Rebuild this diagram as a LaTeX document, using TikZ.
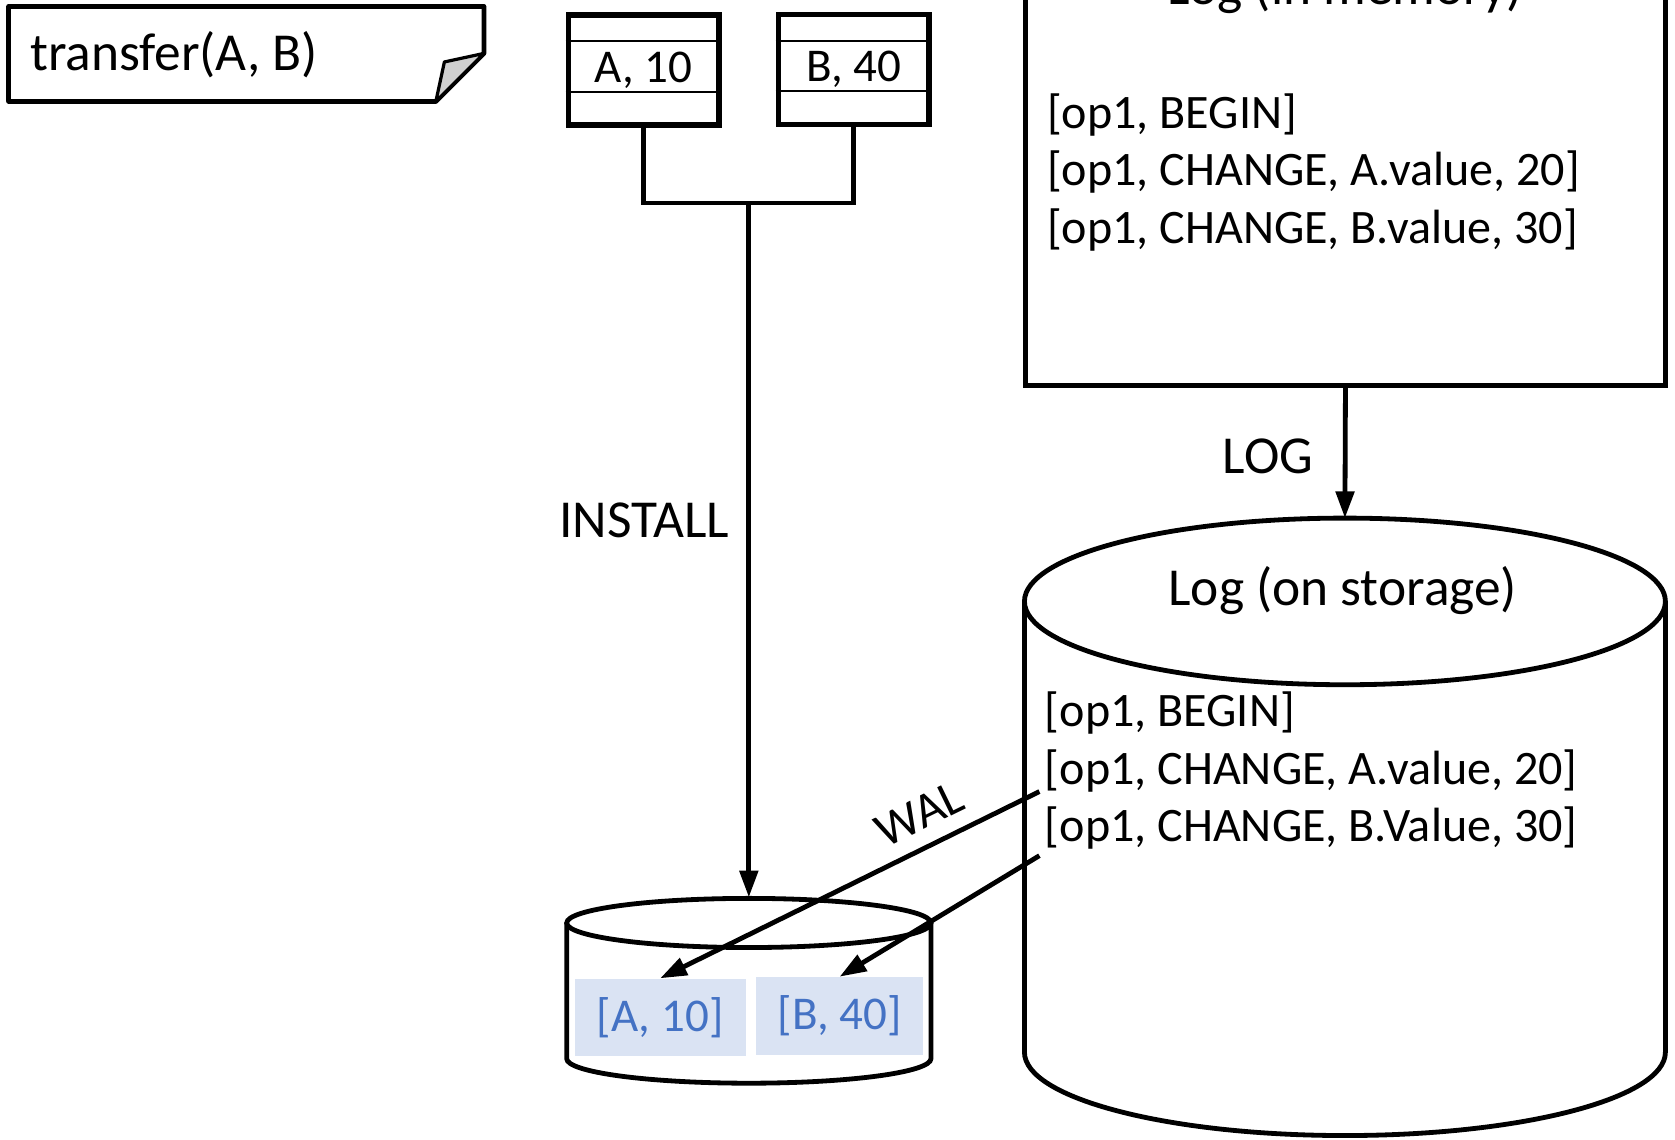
\documentclass[tikz,border=0pt]{standalone}
\usepackage{fontspec}
\setmainfont{Carlito}
\usetikzlibrary{arrows.meta}
\definecolor{boxblue}{HTML}{DAE3F3}
\definecolor{txtblue}{HTML}{4472C4}
\definecolor{foldgray}{HTML}{D0D0D0}
\tikzset{
 thickline/.style={line width=4.5pt},
 thinline/.style={line width=2pt},
 arr/.style={line width=4.5pt, -{Triangle[length=25pt,width=17pt]}},
 bigtxt/.style={font=\fontsize{50}{60}\selectfont, inner sep=0pt},
 logtxt/.style={font=\fontsize{45}{54}\selectfont, inner sep=0pt, anchor=base west},
 rec/.style={draw, line width=5pt, minimum width=141pt, minimum height=103pt, inner sep=0pt, font=\fontsize{44}{54}\selectfont},
 cell/.style={fill=boxblue, text=txtblue, font=\fontsize{44}{54}\selectfont, inner sep=0pt},
}
\begin{document}
\begin{tikzpicture}[x=1pt,y=-1pt]
\useasboundingbox (0,0) rectangle (1568,1067);
\clip (0,0) rectangle (1568,1067);

% note
\draw[thickline, line join=round] (8,6) -- (453,6) -- (453,50) -- (408,95) -- (8,95) -- cycle;
\draw[line width=3pt, fill=foldgray, line join=round] (453,50) -- (416,58) -- (408,95) -- cycle;
\node[bigtxt, anchor=base west] (transfer) at (28,66) {transfer(A, B)};

% record boxes
\node[rec] (boxA) at (602.5,65.5) {A, 10};
\node[rec] (boxB) at (799,65) {B, 40};
\draw[thinline] (boxA.north west) ++(0,27) -- ++(141,0);
\draw[thinline] (boxA.north west) ++(0,75) -- ++(141,0);
\draw[thinline] (boxB.north west) ++(0,27) -- ++(141,0);
\draw[thinline] (boxB.north west) ++(0,74) -- ++(141,0);

\coordinate (join) at (701,190);
\draw[thickline] (boxA.south) |- (join) -| (boxB.south);

% small database cylinder
\coordinate (db) at (701,864);
\coordinate (dbtop) at (701,840);
\draw[thickline, fill=white] (530.5,864) -- (530.5,991) arc[start angle=180, end angle=0, x radius=170.5, y radius=23] -- (871.5,864);
\draw[thickline] (db) ellipse[x radius=170.5, y radius=23];
\node[cell, minimum width=160pt, minimum height=73pt] (cellA) at (618,952.5) {[A, 10]};
\node[cell, minimum width=156pt, minimum height=73pt] (cellB) at (786,951) {[B, 40]};

\draw[arr] (join) -- (dbtop);
\node[bigtxt] (install) at (603,487) {INSTALL};

% log in memory
\node[draw, line width=4.5pt, minimum width=599pt, minimum height=421pt, inner sep=0pt] (mem) at (1259.5,150.5) {};
\node[bigtxt, anchor=base] (memtitle) at (1259,4) {Log (in memory)};
\node[logtxt] (m1) at (980,120) {[op1, BEGIN]};
\node[logtxt] (m2) at (980,174) {[op1, CHANGE, A.value, 20]};
\node[logtxt] (m3) at (980,228) {[op1, CHANGE, B.value, 30]};

% log on storage
\coordinate (stor) at (1259,563);
\coordinate (stortop) at (1259,485);
\draw[thickline, fill=white] (959,563) -- (959,985) arc[start angle=180, end angle=0, x radius=300, y radius=78] -- (1559,563);
\draw[thickline] (stor) ellipse[x radius=300, y radius=78];
\node[bigtxt] (stortitle) at (1257,553) {Log (on storage)};
\node[logtxt] (s1) at (978,680) {[op1, BEGIN]};
\node[logtxt] (s2) at (978,734) {[op1, CHANGE, A.value, 20]};
\node[logtxt] (s3) at (978,788) {[op1, CHANGE, B.Value, 30]};

\draw[arr] (mem.south) -- (stortop);
\node[bigtxt] (loglbl) at (1187,427) {LOG};

% WAL arrows
\coordinate (wA) at (973,741);
\coordinate (wB) at (973,801);
\draw[arr] (wA) -- (cellA.north);
\draw[arr] (wB) -- (cellB.north);
\node[inner sep=0pt, font=\fontsize{46}{56}\selectfont, rotate=26] (wal) at (861,762) {WAL};
\end{tikzpicture}
\end{document}
